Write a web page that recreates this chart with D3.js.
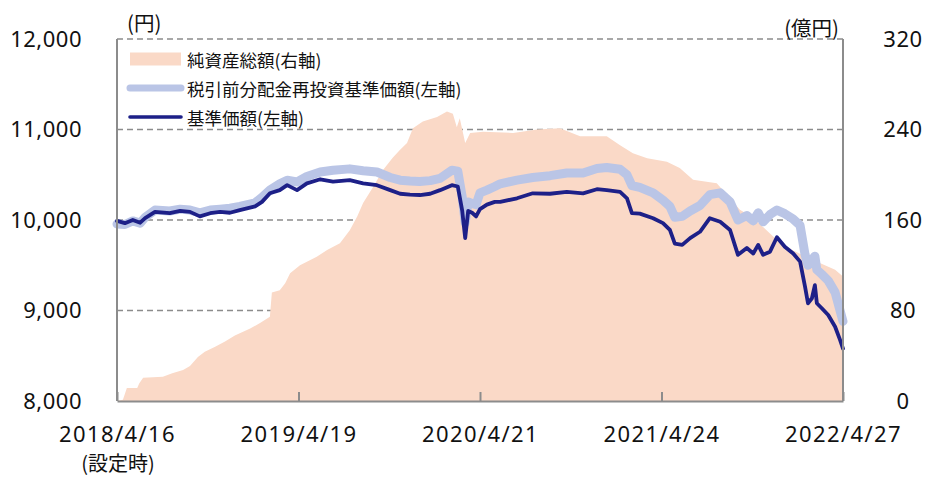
<!DOCTYPE html>
<html>
<head>
<meta charset="utf-8">
<script src="https://cdn.jsdelivr.net/npm/d3@7.9.0/dist/d3.min.js"></script>
<style>
  body { margin: 0; background: #fff; }
  svg { display: block; font-family: "Noto Sans CJK JP", "Noto Sans", sans-serif; }
  .num { font-family: "Noto Sans", "Noto Sans CJK JP", sans-serif; }
</style>
</head>
<body>
<svg id="chart" width="927" height="477"></svg>
<script>
// -------------------------
// Data
// -------------------------
const lineDates = [
  '2018-04-16','2018-05-02','2018-05-18','2018-06-02','2018-06-12','2018-07-02','2018-08-01','2018-08-22',
  '2018-09-11','2018-10-01','2018-10-22','2018-11-11','2018-12-01','2018-12-21','2019-01-21','2019-02-04',
  '2019-02-20','2019-03-12','2019-03-27','2019-04-16','2019-05-06','2019-06-02','2019-06-28','2019-08-01',
  '2019-08-28','2019-09-25','2019-10-22','2019-11-11','2019-12-01','2019-12-21','2020-01-11','2020-01-31',
  '2020-02-24','2020-03-07','2020-03-16','2020-03-22','2020-03-28','2020-04-05','2020-04-13','2020-04-21',
  '2020-05-05','2020-05-21','2020-06-01','2020-07-05','2020-08-06','2020-09-10','2020-10-14','2020-11-16',
  '2020-12-14','2021-01-03','2021-01-30','2021-02-13','2021-02-23','2021-03-11','2021-04-07','2021-04-27',
  '2021-05-11','2021-05-21','2021-06-05','2021-06-21','2021-07-11','2021-07-31','2021-08-21','2021-09-10',
  '2021-09-26','2021-10-14','2021-10-27','2021-11-06','2021-11-16','2021-11-30','2021-12-14','2021-12-30',
  '2022-01-16','2022-01-30','2022-02-09','2022-02-15','2022-02-23','2022-03-01','2022-03-05','2022-03-15',
  '2022-03-28','2022-04-11','2022-04-21','2022-04-27'
];

// 基準価額 (円)
const navValues = [
  9990, 9965, 10000, 9970, 10020, 10090, 10075, 10100,
  10090, 10040, 10075, 10090, 10080, 10110, 10150, 10200,
  10295, 10330, 10385, 10330, 10405, 10450, 10425, 10440,
  10405, 10385, 10330, 10290, 10280, 10276, 10290, 10330,
  10385, 10370, 10100, 9800, 10100, 10080, 10040, 10120,
  10170, 10200, 10200, 10240, 10295, 10290, 10310, 10295,
  10340, 10330, 10310, 10240, 10075, 10070, 10020, 9965,
  9890, 9740, 9725, 9800, 9870, 10020, 9980, 9890,
  9615, 9690, 9630, 9725, 9615, 9650, 9810, 9705,
  9630, 9540, 9265, 9080, 9135, 9280, 9080, 9025,
  8950, 8820, 8675, 8580
];

// 税引前分配金再投資基準価額 (円)
const reinvValues = [
  9955, 9950, 9990, 9965, 10030, 10110, 10100, 10120,
  10110, 10080, 10110, 10120, 10130, 10150, 10190, 10250,
  10330, 10400, 10440, 10420, 10480, 10530, 10550, 10565,
  10545, 10530, 10470, 10440, 10430, 10425, 10435, 10460,
  10550, 10540, 10250, 9970, 10200, 10180, 10170, 10300,
  10330, 10370, 10400, 10440, 10470, 10490, 10520, 10520,
  10570, 10580, 10560, 10500, 10380, 10360, 10300, 10220,
  10150, 10030, 10040, 10100, 10160, 10280, 10300, 10200,
  10000, 10050, 9990, 10080, 9980, 10060, 10110, 10070,
  10010, 9940, 9620, 9500, 9560, 9600, 9450, 9400,
  9330, 9200, 9000, 8880
];

const assetDates = [
  '2018-04-16','2018-04-28','2018-05-06','2018-05-27','2018-05-31','2018-06-08','2018-07-18','2018-08-06',
  '2018-08-28','2018-09-11','2018-09-27','2018-10-11','2018-11-01','2018-11-21','2018-12-11','2019-01-11',
  '2019-01-31','2019-02-20','2019-02-24','2019-03-12','2019-03-23','2019-04-02','2019-04-22','2019-05-26',
  '2019-06-16','2019-07-12','2019-08-01','2019-08-16','2019-08-28','2019-09-17','2019-10-07','2019-10-27',
  '2019-11-11','2019-11-25','2019-12-07','2019-12-27','2020-01-25','2020-02-14','2020-02-26','2020-03-05',
  '2020-03-11','2020-03-22','2020-04-01','2020-04-27','2020-06-27','2020-08-15','2020-09-30','2020-11-10',
  '2021-01-03','2021-01-30','2021-02-25','2021-03-26','2021-05-05','2021-05-31','2021-06-27','2021-08-14',
  '2021-09-04','2021-09-30','2021-10-27','2021-11-30','2021-12-20','2022-01-16','2022-02-09','2022-03-11',
  '2022-04-11','2022-04-27'
];

// 純資産総額 (億円)
const assetValues = [
  0, 1, 11.5, 11.5, 15.5, 20.5, 21.5, 24.5,
  27.5, 31, 39, 43.5, 48, 52.5, 58, 64,
  69, 74.5, 96, 98, 104, 113, 120, 127.5,
  133.5, 139.5, 151, 163, 175, 189, 204, 215,
  222, 228, 241, 247, 251, 256, 254, 242,
  250, 228, 237, 238, 237, 240, 241, 234,
  234, 226, 219, 214.5, 211.5, 206, 195.5, 192.5,
  182, 169, 162, 148, 140, 133, 128, 122,
  116, 110
];

const leftTicks = [8000, 9000, 10000, 11000, 12000];
const rightTicks = [0, 80, 160, 240, 320];
const xTickDates = ['2018-04-16', '2019-04-19', '2020-04-21', '2021-04-24', '2022-04-27'];
const xTickLabels = ['2018/4/16', '2019/4/19', '2020/4/21', '2021/4/24', '2022/4/27'];

const seriesNames = ['純資産総額(右軸)', '税引前分配金再投資基準価額(左軸)', '基準価額(左軸)'];

// -------------------------
// Setup
// -------------------------
const parse = d3.timeParse('%Y-%m-%d');
const W = 927, H = 477;
const margin = { top: 39, right: 84, bottom: 76, left: 117 };

const colArea = '#fad9c7';
const colReinv = '#bac5e6';
const colNav = '#1d2088';
const colAxis = '#8c8c8c';

const x = d3.scaleTime()
  .domain([parse('2018-04-16'), parse('2022-04-27')])
  .range([margin.left, W - margin.right]);
const yL = d3.scaleLinear().domain([8000, 12000]).range([H - margin.bottom, margin.top]);
const yR = d3.scaleLinear().domain([0, 320]).range([H - margin.bottom, margin.top]);

const svg = d3.select('#chart');

// Gridlines (dashed)
svg.append('g')
  .selectAll('line')
  .data(leftTicks.slice(1))
  .join('line')
  .attr('x1', margin.left).attr('x2', W - margin.right)
  .attr('y1', d => yL(d)).attr('y2', d => yL(d))
  .attr('stroke', colAxis).attr('stroke-width', 1.6)
  .attr('stroke-dasharray', '6,4');

// Net assets area
const assetData = assetDates.map((d, i) => ({ date: parse(d), value: assetValues[i] }));
svg.append('path')
  .datum(assetData)
  .attr('fill', colArea)
  .attr('d', d3.area()
    .x(d => x(d.date))
    .y0(yR(0))
    .y1(d => yR(d.value)));

// Lines
const lineData = lineDates.map((d, i) => ({ date: parse(d), nav: navValues[i], reinv: reinvValues[i] }));

svg.append('path')
  .datum(lineData)
  .attr('fill', 'none')
  .attr('stroke', colReinv)
  .attr('stroke-width', 9)
  .attr('stroke-linejoin', 'round')
  .attr('stroke-linecap', 'round')
  .attr('d', d3.line().x(d => x(d.date)).y(d => yL(d.reinv)));

svg.append('path')
  .datum(lineData)
  .attr('fill', 'none')
  .attr('stroke', colNav)
  .attr('stroke-width', 3.8)
  .attr('stroke-linejoin', 'round')
  .attr('stroke-linecap', 'round')
  .attr('d', d3.line().x(d => x(d.date)).y(d => yL(d.nav)));

// Frame lines: left, right
svg.append('line')
  .attr('x1', margin.left).attr('x2', margin.left)
  .attr('y1', margin.top).attr('y2', H - margin.bottom)
  .attr('stroke', colAxis).attr('stroke-width', 2);
svg.append('line')
  .attr('x1', W - margin.right).attr('x2', W - margin.right)
  .attr('y1', margin.top).attr('y2', H - margin.bottom)
  .attr('stroke', colAxis).attr('stroke-width', 2);

// X axis
const xAxis = svg.append('g')
  .attr('transform', `translate(0,${H - margin.bottom})`)
  .call(d3.axisBottom(x)
    .tickValues(xTickDates.map(parse))
    .tickSizeInner(-9)
    .tickSizeOuter(0)
    .tickFormat((d, i) => xTickLabels[i]));
xAxis.select('.domain').attr('stroke', colAxis).attr('stroke-width', 2);
xAxis.selectAll('.tick line').attr('stroke', colAxis).attr('stroke-width', 2);
xAxis.selectAll('.tick text')
  .attr('class', 'num')
  .attr('fill', '#111').attr('font-size', 22).attr('font-family', null)
  .attr('letter-spacing', 1.4)
  .attr('y', 34).attr('dy', '0.34em');

svg.append('text')
  .attr('x', x(parse(xTickDates[0])) + 1)
  .attr('y', 462)
  .attr('text-anchor', 'middle')
  .attr('dominant-baseline', 'central')
  .attr('font-size', 20)
  .attr('fill', '#111')
  .text('(設定時)');

// Left axis labels
const yAxisL = svg.append('g')
  .attr('transform', `translate(${margin.left},0)`)
  .call(d3.axisLeft(yL).tickValues(leftTicks).tickSize(0).tickPadding(35)
    .tickFormat(d3.format(',')));
yAxisL.select('.domain').remove();
yAxisL.selectAll('.tick text')
  .attr('class', 'num')
  .attr('fill', '#111').attr('font-size', 22).attr('font-family', null)
  .attr('letter-spacing', 0.5);

// Right axis labels
const yAxisR = svg.append('g')
  .attr('transform', `translate(${W - margin.right},0)`)
  .call(d3.axisRight(yR).tickValues(rightTicks).tickSize(0).tickPadding(0));
yAxisR.select('.domain').remove();
yAxisR.selectAll('.tick text')
  .attr('class', 'num')
  .attr('fill', '#111').attr('font-size', 22).attr('font-family', null)
  .attr('letter-spacing', 0.5)
  .attr('text-anchor', 'middle').attr('x', 60);

// Unit labels
svg.append('text')
  .attr('x', 127).attr('y', 22)
  .attr('dominant-baseline', 'central')
  .attr('font-size', 20.5).attr('fill', '#111')
  .text('(円)');
svg.append('text')
  .attr('x', 839).attr('y', 27)
  .attr('text-anchor', 'end')
  .attr('dominant-baseline', 'central')
  .attr('font-size', 20.5).attr('fill', '#111')
  .text('(億円)');

// -------------------------
// Legend
// -------------------------
const legend = svg.append('g').attr('font-size', 17.5).attr('fill', '#111');
const legendY = [59, 88, 117];

legend.append('rect')
  .attr('x', 130).attr('y', legendY[0] - 6.5)
  .attr('width', 51).attr('height', 13)
  .attr('fill', colArea);
legend.append('line')
  .attr('x1', 130).attr('x2', 181)
  .attr('y1', legendY[1]).attr('y2', legendY[1])
  .attr('stroke', colReinv).attr('stroke-width', 7).attr('stroke-linecap', 'round');
legend.append('line')
  .attr('x1', 130).attr('x2', 181)
  .attr('y1', legendY[2]).attr('y2', legendY[2])
  .attr('stroke', colNav).attr('stroke-width', 3.6).attr('stroke-linecap', 'round');

seriesNames.forEach((name, i) => {
  legend.append('text')
    .attr('x', 187).attr('y', legendY[i])
    .attr('dominant-baseline', 'central')
    .text(name);
});
</script>
</body>
</html>
